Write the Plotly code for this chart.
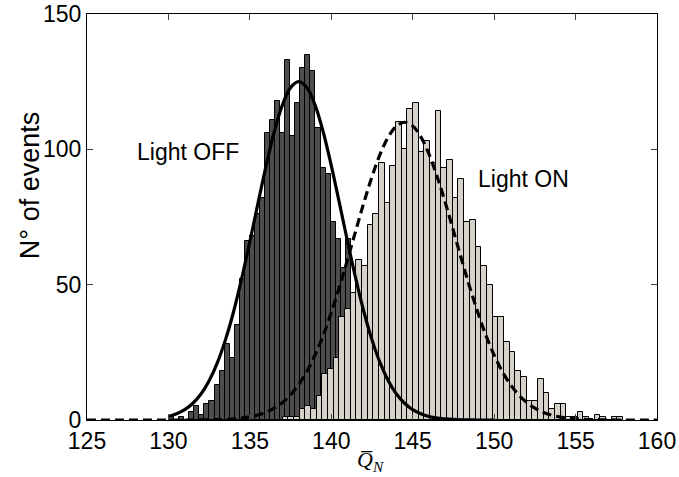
import plotly.graph_objects as go

# ---------------- data ----------------
# Light OFF histogram: first bin left edge, bin width, counts
off_first_edge = 130.04
off_bin_width = 0.31
off_counts = [1, 0, 1, 0, 3, 5, 2, 6, 7, 13, 18, 28, 23, 35, 52, 66, 68, 76, 82,
              106, 111, 118, 106, 133, 105, 117, 130, 135, 129, 108, 93, 91, 73,
              67, 56, 67, 42, 36, 28, 21, 15, 11, 8, 5, 3, 2, 1, 1]

# Light ON histogram
on_first_edge = 137.01
on_bin_width = 0.3484
on_counts = [1, 1, 1, 4, 5, 4, 9, 17, 19, 23, 38, 41, 47, 59, 57, 72, 76, 95, 80,
             94, 110, 100, 115, 117, 99, 103, 95, 114, 93, 96, 82, 89, 73, 74, 64,
             57, 50, 38, 38, 29, 25, 18, 16, 7, 7, 15, 10, 4, 6, 6, 1, 1, 3, 1, 0,
             2, 1, 0, 1, 1]

# Gaussian fit curves
fit_off_x = [130 + 0.5 * i for i in range(41)]
fit_off_y = [1.3, 2.3, 3.8, 6.2, 9.6, 14.5, 21.1, 29.6, 40.0, 52.3, 65.9, 80.1,
             94.0, 106.5, 116.4, 122.8, 125.0, 122.8, 116.4, 106.5, 94.0, 80.1,
             65.9, 52.3, 40.0, 29.6, 21.1, 14.5, 9.6, 6.2, 3.8, 2.3, 1.3, 0.7,
             0.4, 0.2, 0.1, 0.05, 0.0, 0.0, 0.0]

fit_on_x = [125 + 0.5 * i for i in range(71)]
fit_on_y = [0.0, 0.0, 0.0, 0.0, 0.0, 0.0, 0.0, 0.0, 0.0, 0.0, 0.0, 0.0, 0.0,
            0.0, 0.05, 0.1, 0.14, 0.25, 0.42, 0.71, 1.16, 1.86, 2.89, 4.37,
            6.46, 9.31, 13.1, 17.9, 24.0, 31.2, 39.7, 49.1, 59.3, 69.9, 80.3,
            89.9, 98.2, 104.6, 108.6, 110.0, 108.6, 104.6, 98.2, 89.9, 80.3,
            69.9, 59.3, 49.1, 39.7, 31.2, 24.0, 17.9, 13.1, 9.31, 6.46, 4.37,
            2.89, 1.86, 1.16, 0.71, 0.42, 0.25, 0.14, 0.1, 0.05, 0.0, 0.0, 0.0,
            0.0, 0.0, 0.0]

x_ticks = [125, 130, 135, 140, 145, 150, 155, 160]
y_ticks = [0, 50, 100, 150]

off_centers = [off_first_edge + off_bin_width * (i + 0.5) for i in range(len(off_counts))]
on_centers = [on_first_edge + on_bin_width * (i + 0.5) for i in range(len(on_counts))]

FONT = "Liberation Sans, Arial, Helvetica, sans-serif"

fig = go.Figure()
fig.add_trace(go.Bar(x=off_centers, y=off_counts, width=off_bin_width,
                     marker=dict(color="#4d4d4d", line=dict(color="black", width=1)),
                     showlegend=False))
fig.add_trace(go.Bar(x=on_centers, y=on_counts, width=on_bin_width,
                     marker=dict(color="#d6d2ca", line=dict(color="black", width=1)),
                     showlegend=False))
fig.add_trace(go.Scatter(x=fit_off_x, y=fit_off_y, mode="lines",
                         line=dict(color="black", width=3.2, shape="spline"),
                         showlegend=False))
fig.add_trace(go.Scatter(x=fit_on_x, y=fit_on_y, mode="lines",
                         line=dict(color="black", width=3.2, dash="9px,5px", shape="spline"),
                         showlegend=False))

fig.add_annotation(x=131.2, y=99, xref="x", yref="y", text="Light OFF",
                   showarrow=False, font=dict(family=FONT, size=23, color="black"))
fig.add_annotation(x=151.8, y=89, xref="x", yref="y", text="Light ON",
                   showarrow=False, font=dict(family=FONT, size=23, color="black"))
fig.add_annotation(x=0.497, y=-0.1, xref="paper", yref="paper", yanchor="middle",
                   text="<i>Q\u0305</i><sub><i>N</i></sub>", showarrow=False,
                   font=dict(family="Liberation Serif, DejaVu Serif, serif", size=22, color="black"))
fig.add_annotation(x=-0.1, y=0.576, xref="paper", yref="paper", xanchor="center",
                   yanchor="middle", textangle=-90, text="N° of events", showarrow=False,
                   font=dict(family=FONT, size=27, color="black"))

fig.update_layout(
    width=679, height=477,
    margin=dict(l=87, r=22, t=14, b=57, autoexpand=False),
    paper_bgcolor="white", plot_bgcolor="white",
    barmode="overlay", bargap=0,
    font=dict(family=FONT, size=23, color="black"),
)
fig.update_xaxes(range=[125, 160], tickvals=x_ticks, ticks="inside", ticklen=6,
                 showline=True, linecolor="black", linewidth=1, mirror="ticks",
                 showgrid=False, zeroline=False, tickfont=dict(size=23),
                 automargin=False)
fig.update_yaxes(range=[0, 150], tickvals=y_ticks, ticks="inside", ticklen=6,
                 showline=True, linecolor="black", linewidth=1, mirror="ticks",
                 showgrid=False, zeroline=False, tickfont=dict(size=23),
                 automargin=False)

# remove the default 8px page margin so the figure fills the window exactly
fig.write_html("out.html", config={"displayModeBar": False},
               post_script="document.body.style.margin='0px';")
